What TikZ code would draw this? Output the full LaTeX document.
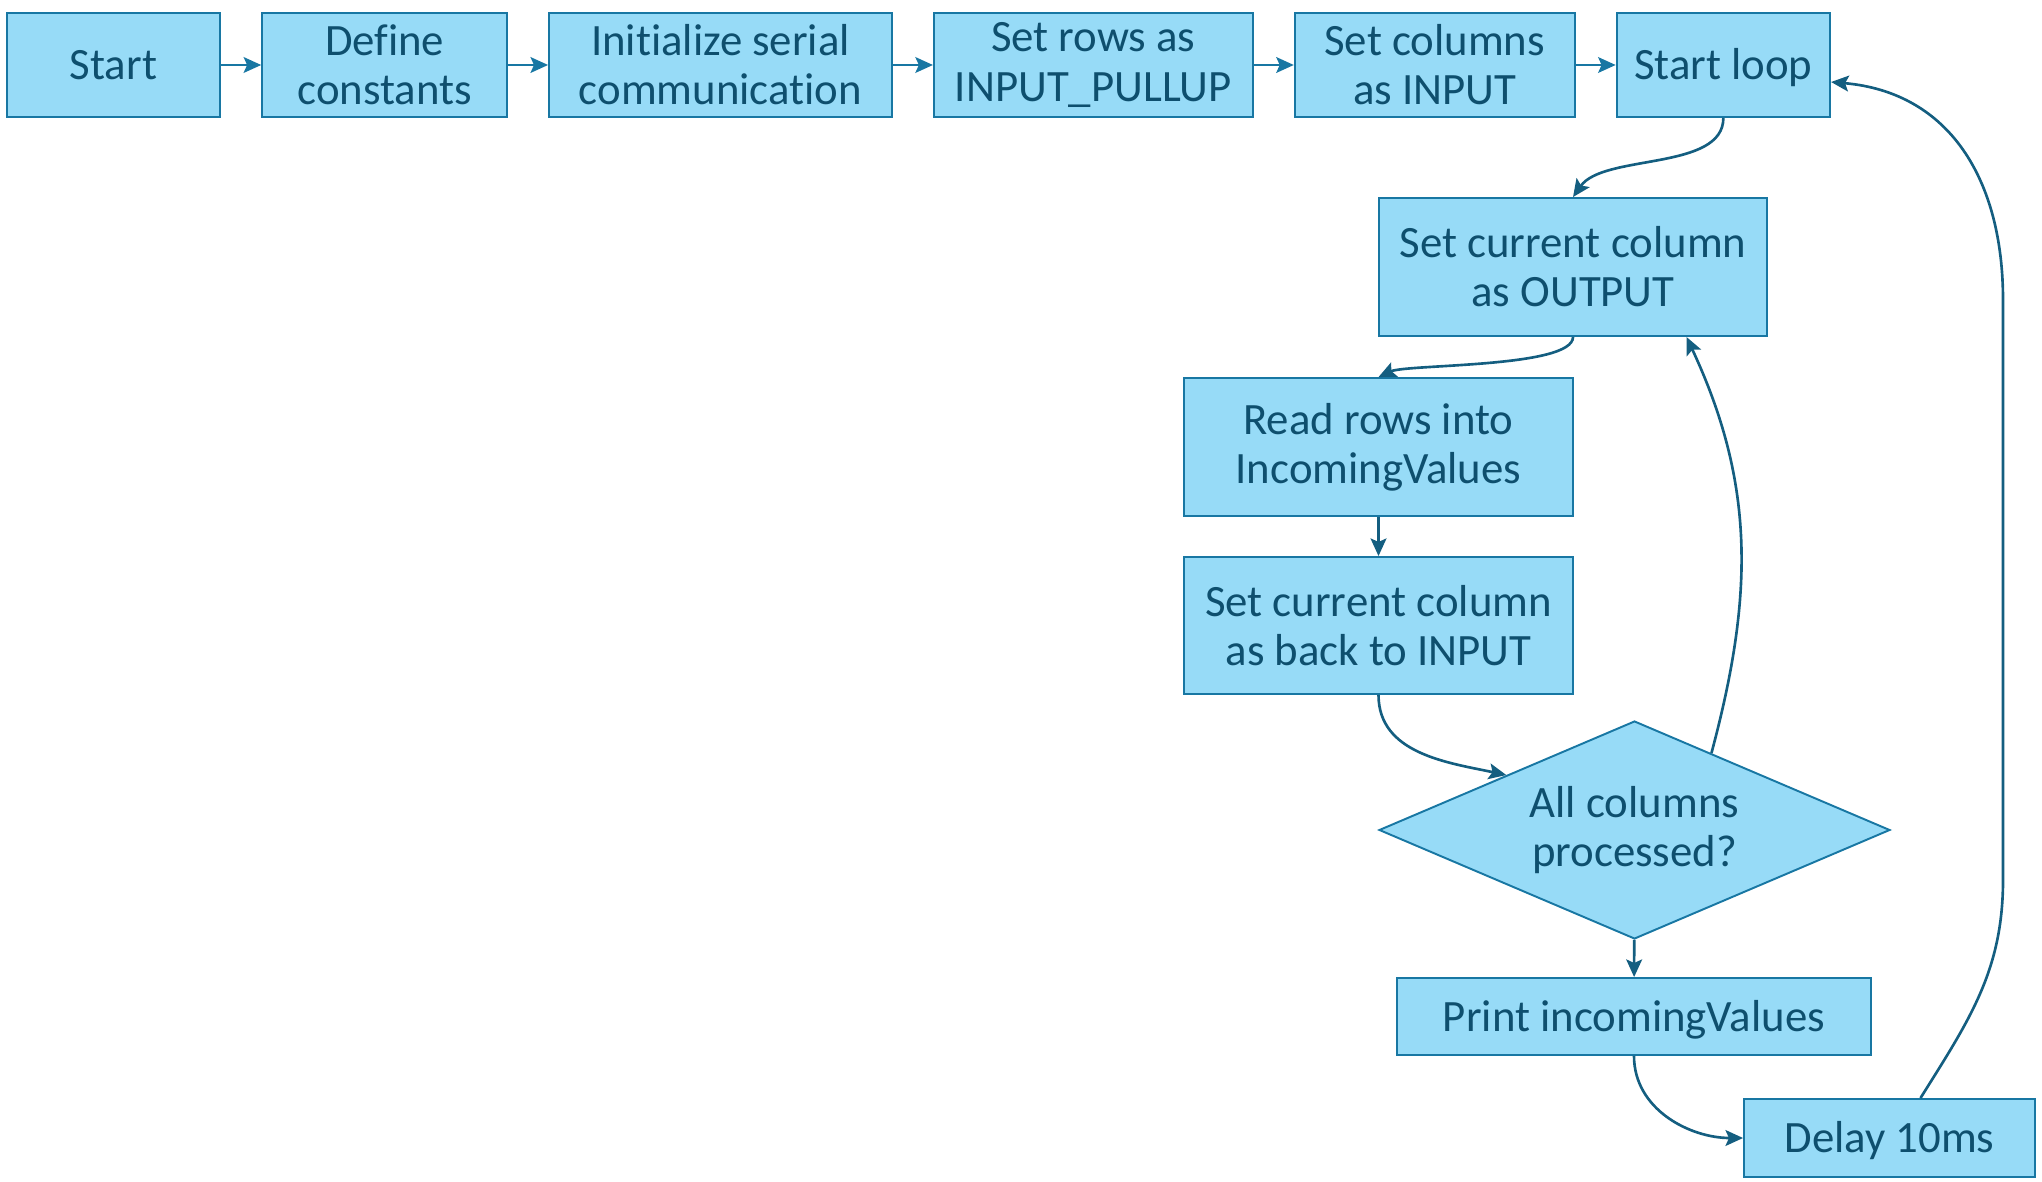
\documentclass[tikz,border=0pt]{standalone}
\usepackage{fontspec}
\setmainfont{Carlito}[Ligatures=NoCommon]
\usepackage{tikz}
\usetikzlibrary{chains,shapes.geometric,arrows.meta}
\definecolor{boxfill}{HTML}{97DBF7}
\definecolor{boxline}{HTML}{1877A3}
\definecolor{boxtext}{HTML}{0E4F6E}
\definecolor{linkline}{HTML}{145E80}
\newcommand{\ls}{\rule[-0.25em]{0pt}{1.15em}}

\begin{document}
\begin{tikzpicture}[x=0.02cm, y=-0.02cm,
    stepbox/.style={rectangle, draw=boxline, fill=boxfill, line width=1.1pt,
      text=boxtext, align=center, font=\fontsize{25.5}{28}\selectfont, inner sep=2pt},
    testbox/.style={diamond, draw=boxline, fill=boxfill, line width=1.1pt,
      text=boxtext, align=center, font=\fontsize{25.5}{28}\selectfont, inner sep=0pt,
      aspect=2.34, minimum width=10.22cm, minimum height=4.36cm},
    link/.style={draw=linkline, line width=1.5pt, -{Stealth[length=10pt,width=9pt,inset=2pt]}},
    >=Stealth, start chain=going right, node distance=0.8cm]
  \useasboundingbox (0,0) rectangle (2042,1182);
  % top row
  \node[stepbox, on chain, minimum width=4.27cm, minimum height=2.08cm] at (113.5,65) (start) {\ls Start};
  \node[stepbox, on chain, minimum width=4.90cm, minimum height=2.08cm] (consts) {Define\\constants};
  \node[stepbox, on chain, minimum width=6.86cm, minimum height=2.08cm] (serial) {Initialize serial\\communication};
  \node[stepbox, on chain, minimum width=6.38cm, minimum height=2.08cm] (rows) {Set rows as\\INPUT\_PULLUP};
  \node[stepbox, on chain, minimum width=5.60cm, minimum height=2.08cm] (cols) {Set columns\\as INPUT};
  \node[stepbox, on chain, minimum width=4.27cm, minimum height=2.08cm] (loop) {\ls Start loop};
  \foreach \a/\b in {start/consts, consts/serial, serial/rows, rows/cols, cols/loop}
    \draw[link, draw=boxline, line width=1.2pt] (\a) -- (\b);
  % scan of the columns
  \node[stepbox, minimum width=7.76cm, minimum height=2.76cm] at (1573,267) (colout) {Set current column\\as OUTPUT};
  \node[stepbox, minimum width=7.78cm, minimum height=2.76cm] at (1378.5,447) (readrows) {Read rows into\\IncomingValues};
  \node[stepbox, minimum width=7.78cm, minimum height=2.74cm] at (1378.5,625.5) (colin) {Set current column\\as back to INPUT};
  \node[testbox] at (1634.5,830) (alldone) {All columns\\processed?};
  \node[stepbox, minimum width=9.48cm, minimum height=1.54cm] at (1634,1016.5) (print) {\ls Print incomingValues};
  \node[stepbox, minimum width=5.82cm, minimum height=1.56cm] at (1889.5,1138) (delay) {\ls Delay 10ms};
  \draw[link] (loop.south) to[out=-90, in=55, looseness=0.8] (colout.north);
  \draw[link] (colout.south) to[out=-90, in=25, looseness=0.4] (readrows.north);
  \draw[link] (readrows) -- (colin);
  \draw[link] (colin.south) to[out=-90, in=168] (alldone.north west);
  \draw[link] (alldone.45) to[out=75, in=-65] ([xshift=2.27cm]colout.south);
  \draw[link] (alldone) -- (print);
  \draw[link] (print.south) to[out=-90, in=180] (delay.west);
  \draw[link] ([xshift=0.62cm]delay.north) to[out=58, in=-90] (2003,880)
    -- (2003,300) to[out=90, in=-5, looseness=1.1] ([yshift=-0.34cm]loop.east);
\end{tikzpicture}
\end{document}
